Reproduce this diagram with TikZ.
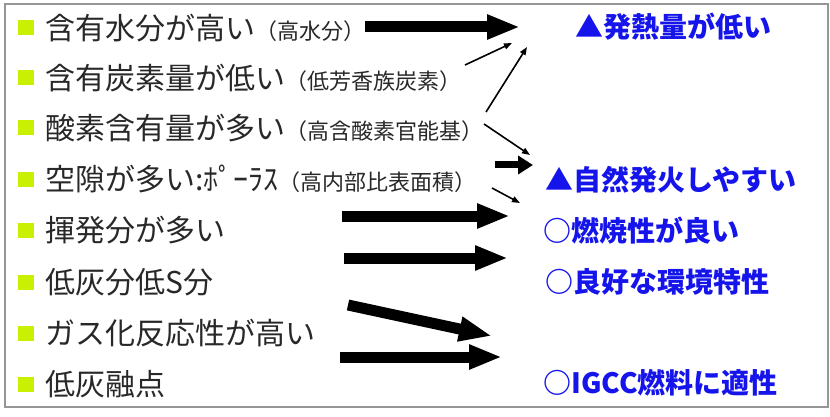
\documentclass[tikz,border=0pt]{standalone}
\usepackage{fontspec}
\usepackage{tikz}
\usetikzlibrary{arrows.meta}
\newfontfamily\jpfont{Noto Sans CJK JP}
\definecolor{markgreen}{RGB}{200, 240, 0}
\definecolor{effblue}{RGB}{20, 20, 235}
\definecolor{textgray}{RGB}{40, 40, 40}
\definecolor{framegray}{RGB}{150, 150, 150}
\newcommand{\smallpart}[1]{{\fontsize{22}{26}\selectfont #1}}

\begin{document}
\begin{tikzpicture}[
  x=1pt, y=-1pt,
  every node/.style={inner sep=0pt},
  prop/.style={anchor=west, text=textgray, font=\jpfont\fontsize{30}{34}\selectfont},
  effect/.style={anchor=west, text=effblue, font=\jpfont\bfseries\fontsize{28}{32}\selectfont},
  sq/.style={fill=markgreen, minimum width=16pt, minimum height=15pt},
  bigarr/.style={-{Triangle[length=33pt,width=23pt]}, line width=11pt},
  midarr/.style={-{Triangle[length=15pt,width=18pt]}, line width=7pt},
  thinarr/.style={-{Triangle[length=8pt,width=6pt]}, line width=1.6pt},
]
\useasboundingbox (0,0) rectangle (830,417);
\draw[framegray, line width=1.2pt] (5,4) rectangle (828,407);

% Coal properties
\node[sq] (sq1) at (26,28)  {};
\node[sq] (sq2) at (26,78)  {};
\node[sq] (sq3) at (26,128) {};
\node[sq] (sq4) at (26,179) {};
\node[sq] (sq5) at (26,230) {};
\node[sq] (sq6) at (26,282) {};
\node[sq] (sq7) at (26,333) {};
\node[sq] (sq8) at (26,384) {};

\node[prop] (moist)  at (45,28)  {含有水分が高い\smallpart{（高水分）}};
\node[prop] (carbon) at (45,78)  {含有炭素量が低い\smallpart{（低芳香族炭素）}};
\node[prop] (oxygen) at (45,128) {酸素含有量が多い\smallpart{（高含酸素官能基）}};
\node[prop] (pore)   at (45,179) {空隙が多い:ﾎﾟｰﾗｽ\smallpart{（高内部比表面積）}};
\node[prop] (volat)  at (45,230) {揮発分が多い};
\node[prop] (ash)    at (45,282) {低灰分低S分};
\node[prop] (gasif)  at (45,333) {ガス化反応性が高い};
\node[prop] (melt)   at (45,384) {低灰融点};

% Effects
\node[effect] (heat)    at (575,27)  {▲発熱量が低い};
\node[effect] (ignite)  at (545,180) {▲自然発火しやすい};
\node[effect] (combust) at (543,231) {○燃焼性が良い};
\node[effect] (envir)   at (545,282) {○良好な環境特性};
\node[effect] (igcc)    at (543,383) {○IGCC燃料に適性};

% Arrow ends
\coordinate (f1) at (365,27);  \coordinate (t1) at (520,27);
\coordinate (f2) at (465,65);  \coordinate (t2) at (512,43);
\coordinate (f3) at (486,112); \coordinate (t3) at (527,47);
\coordinate (f4) at (484,124); \coordinate (t4) at (530,155);
\coordinate (f5) at (495,165); \coordinate (t5) at (533,165);
\coordinate (f6) at (492,188); \coordinate (t6) at (520,203);
\coordinate (f7) at (342,216); \coordinate (t7) at (510,216);
\coordinate (f8) at (344,258); \coordinate (t8) at (508,258);
\coordinate (f9) at (348,305); \coordinate (t9) at (492,336);
\coordinate (f10) at (340,357); \coordinate (t10) at (502,357);

% Arrows
\draw[bigarr]  (f1) -- (t1);
\draw[thinarr] (f2) -- (t2);
\draw[thinarr] (f3) -- (t3);
\draw[thinarr] (f4) -- (t4);
\draw[midarr]  (f5) -- (t5);
\draw[thinarr] (f6) -- (t6);
\draw[bigarr]  (f7) -- (t7);
\draw[bigarr]  (f8) -- (t8);
\draw[bigarr]  (f9) -- (t9);
\draw[bigarr]  (f10) -- (t10);

\end{tikzpicture}
\end{document}
